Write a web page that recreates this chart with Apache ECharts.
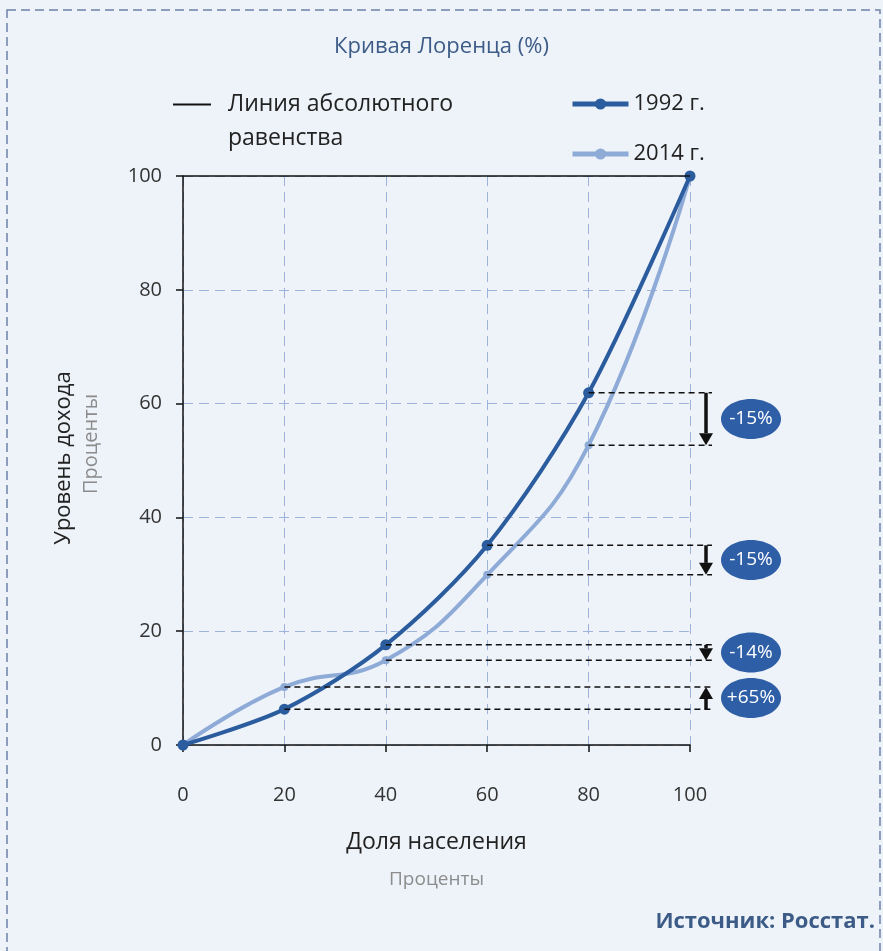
<!DOCTYPE html>
<html>
<head>
<meta charset="utf-8">
<script src="https://cdn.jsdelivr.net/npm/echarts@6/dist/echarts.min.js"></script>
<style>
  html, body { margin: 0; padding: 0; background: #eef3f9; }
  #chart { width: 883px; height: 951px; }
</style>
</head>
<body>
<div id="chart"></div>
<script>
// доля населения, %
var population = [0, 20, 40, 60, 80, 100];
// уровень дохода, % (накопленный)
var income1992 = [0, 6.3, 17.6, 35.1, 61.9, 100];
var income2014 = [0, 10.2, 14.9, 29.9, 52.7, 100];
// подписи изменений для точек 20, 40, 60, 80
var changeLabels = ['+65%', '-14%', '-15%', '-15%'];

var dark = '#2b5c9e';
var light = '#8eabd8';
var font = '"Open Sans", "Noto Sans", sans-serif';

var chart = echarts.init(document.getElementById('chart'));

function pairs(ys) {
  return population.map(function (x, i) { return [x, ys[i]]; });
}

// данные для пунктирных выносок справа
var notes = [];
for (var i = 1; i <= 4; i++) {
  notes.push([population[i], income1992[i], income2014[i], changeLabels[i - 1]]);
}

function renderNote(params, api) {
  var p1 = api.coord([api.value(0), api.value(1)]);
  var p2 = api.coord([api.value(0), api.value(2)]);
  var xr = api.coord([100, 0])[0];
  var xEnd = xr + 22;
  var xa = xr + 16;
  var dir = p2[1] > p1[1] ? 1 : -1;
  var head = 12;
  var dash = { stroke: '#111', lineWidth: 1.5, lineDash: [6, 4] };
  var mid = (p1[1] + p2[1]) / 2;
  return {
    type: 'group',
    children: [
      { type: 'line', shape: { x1: p1[0], y1: p1[1], x2: xEnd, y2: p1[1] }, style: dash },
      { type: 'line', shape: { x1: p2[0], y1: p2[1], x2: xEnd, y2: p2[1] }, style: dash },
      { type: 'line', shape: { x1: xa, y1: p1[1], x2: xa, y2: p2[1] - dir * head },
        style: { stroke: '#111', lineWidth: 3.5 } },
      { type: 'polygon', shape: { points: [[xa - 7, p2[1] - dir * head], [xa + 7, p2[1] - dir * head], [xa, p2[1]]] },
        style: { fill: '#111' } },
      { type: 'ellipse', shape: { cx: xr + 61, cy: mid, rx: 30, ry: 20 }, style: { fill: '#2d5ea6' } },
      { type: 'text', x: xr + 61, y: mid,
        style: { text: api.value(3), fill: '#fff', font: '19px ' + font, align: 'center', verticalAlign: 'middle' } }
    ]
  };
}

var option = {
  backgroundColor: '#eef3f9',
  animation: false,
  title: {
    text: 'Кривая Лоренца (%)',
    left: 'center',
    top: 31,
    textStyle: { fontFamily: font, fontWeight: 'normal', fontSize: 22, color: '#3c5b87' }
  },
  legend: [
    {
      data: ['Линия абсолютного равенства'],
      left: 172,
      top: 93,
      padding: 0,
      itemWidth: 38,
      itemHeight: 14,
      itemStyle: { opacity: 0 },
      lineStyle: { width: 2, color: '#111' },
      formatter: function () { return 'Линия абсолютного'; },
      textStyle: { fontFamily: font, fontSize: 23, color: '#222', padding: [0, 0, 0, 12] }
    },
    {
      data: ['1992 г.', '2014 г.'],
      orient: 'vertical',
      left: 570,
      top: 93,
      padding: 0,
      itemWidth: 56,
      itemHeight: 14,
      itemGap: 28,
      lineStyle: { width: 5 },
      textStyle: { fontFamily: font, fontSize: 22, color: '#222' }
    }
  ],
  grid: { left: 183, right: 193, top: 176, bottom: 206 },
  xAxis: {
    type: 'value',
    min: 0,
    max: 100,
    interval: 20,
    name: '{a|Доля населения}\n{b|Проценты}',
    nameLocation: 'middle',
    nameGap: 78,
    nameTextStyle: {
      rich: {
        a: { fontFamily: font, fontSize: 23, color: '#222', lineHeight: 38 },
        b: { fontFamily: font, fontSize: 19, color: '#8c8c8c', lineHeight: 38 }
      }
    },
    axisLine: { lineStyle: { color: '#111', width: 1.5 } },
    axisTick: { show: true, length: 7, lineStyle: { color: '#111', width: 1.5 } },
    axisLabel: { margin: 40, fontFamily: font, fontSize: 20, color: '#333' },
    splitLine: { show: true, lineStyle: { color: '#9db3da', type: [10, 6], width: 1 } }
  },
  yAxis: {
    type: 'value',
    min: 0,
    max: 100,
    interval: 20,
    axisLine: { show: true, lineStyle: { color: '#111', width: 1.5 } },
    axisTick: { show: true, length: 7, lineStyle: { color: '#111', width: 1.5 } },
    axisLabel: { margin: 21, fontFamily: font, fontSize: 20, color: '#333' },
    splitLine: { show: true, lineStyle: { color: '#9db3da', type: [10, 6], width: 1 } }
  },
  series: [
    {
      name: 'Линия абсолютного равенства',
      type: 'line',
      data: [],
      symbol: 'none',
      itemStyle: { color: '#111' },
      lineStyle: { color: '#111', width: 1.5 },
      markLine: {
        silent: true,
        symbol: 'none',
        label: { show: false },
        lineStyle: { color: '#111', width: 1.5, type: 'solid' },
        data: [{ yAxis: 100 }]
      }
    },
    {
      name: '2014 г.',
      type: 'line',
      smooth: 0.45,
      data: pairs(income2014),
      symbol: 'circle',
      symbolSize: 8,
      itemStyle: { color: light },
      lineStyle: { color: light, width: 4 },
      z: 3
    },
    {
      name: '1992 г.',
      type: 'line',
      smooth: 0.3,
      data: pairs(income1992),
      symbol: 'circle',
      symbolSize: 11,
      itemStyle: { color: dark },
      lineStyle: { color: dark, width: 4 },
      z: 4
    },
    {
      type: 'custom',
      renderItem: renderNote,
      data: notes,
      silent: true,
      z: 5
    }
  ],
  graphic: [
    {
      type: 'rect',
      shape: { x: 7, y: 10, width: 873, height: 1000 },
      style: { fill: null, stroke: '#6c82a6', lineWidth: 1.5, lineDash: [9, 5] },
      silent: true
    },
    {
      type: 'text',
      x: 228, y: 138,
      style: { text: 'равенства', font: '23px ' + font, fill: '#222', verticalAlign: 'middle' }
    },
    {
      type: 'text',
      x: 64, y: 458,
      rotation: Math.PI / 2,
      style: { text: 'Уровень дохода', font: '22px ' + font, fill: '#222', align: 'center', verticalAlign: 'middle' }
    },
    {
      type: 'text',
      x: 91, y: 444,
      rotation: Math.PI / 2,
      style: { text: 'Проценты', font: '20px ' + font, fill: '#8c8c8c', align: 'center', verticalAlign: 'middle' }
    },
    {
      type: 'text',
      right: 8, top: 911,
      style: { text: 'Источник: Росстат.', font: 'bold 22px ' + font, fill: '#3c5b87' }
    }
  ]
};

chart.setOption(option);
</script>
</body>
</html>
